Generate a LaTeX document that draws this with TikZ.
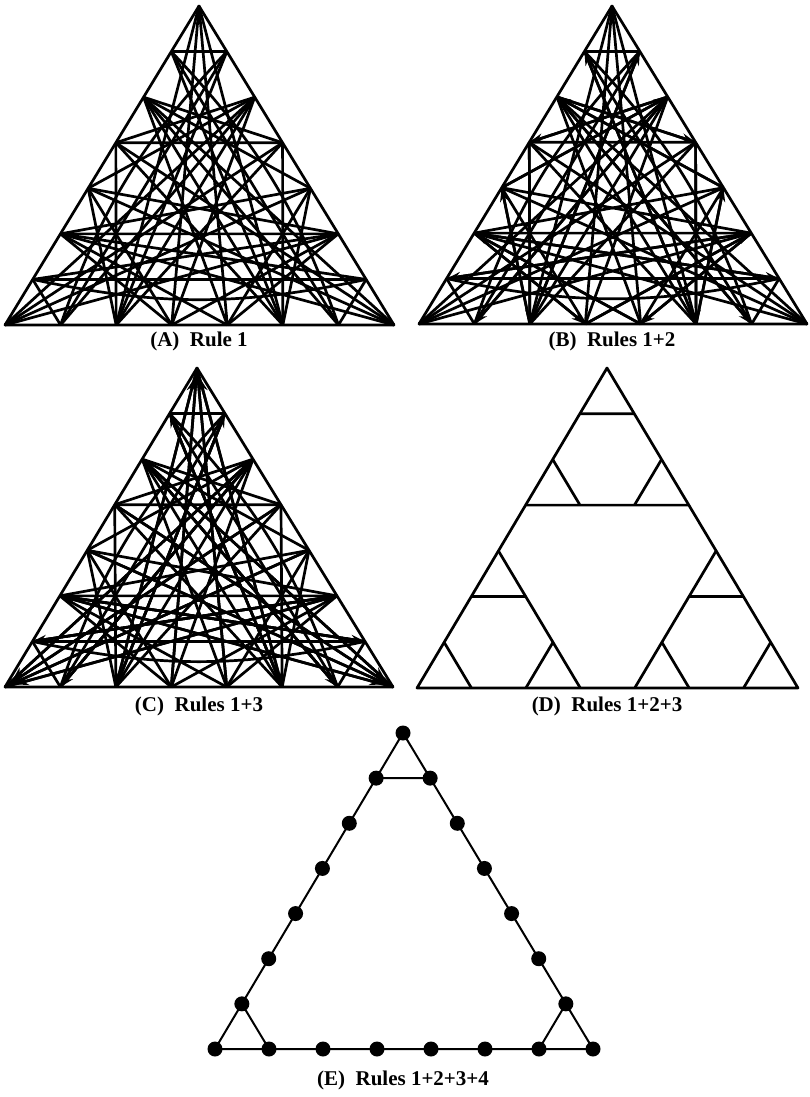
\documentclass[tikz,border=0pt]{standalone}
\usepackage{fontspec}
\setmainfont{Liberation Serif}
\usetikzlibrary{arrows.meta,calc}

\begin{document}
\begin{tikzpicture}[x=1pt,y=-1pt,
    edge/.style={line width=2.7pt,line join=round},
    ring/.style={line width=2pt,line join=round},
    tip/.style={-{Stealth[length=14pt,width=9pt]}},
    site/.style={circle,fill=black,inner sep=0pt,minimum size=15pt},
    caption/.style={font=\fontsize{21}{24}\selectfont\bfseries}
  ]
  \useasboundingbox (0,0) rectangle (809,1097);

  % corners of each panel: 0 = left, 7 = right, 14 = top
  \foreach \p/\lx/\rx/\by/\tx/\ty in {A/5/394/325/199/6,B/419/807/324/612/6,
      C/5/393/687/197/368,D/417/798/688/607/368,E/215/593/1049/403/733}{
    \coordinate (\p-0) at (\lx,\by);
    \coordinate (\p-7) at (\rx,\by);
    \coordinate (\p-14) at (\tx,\ty);
  }
  % the other 18 sites, counted round the rim
  \foreach \p in {A,B,C,D,E}
    \foreach \n in {1,...,6}{
      \pgfmathtruncatemacro\nr{\n+7}
      \pgfmathtruncatemacro\nt{\n+14}
      \coordinate (\p-\n) at ($(\p-0)!\n/7!(\p-7)$);
      \coordinate (\p-\nr) at ($(\p-7)!\n/7!(\p-14)$);
      \coordinate (\p-\nt) at ($(\p-14)!\n/7!(\p-0)$);
    }

  % rule 1 links, each one repeated at the three corners
  \foreach \p in {A,B,C}{
    \draw[edge] (\p-0) -- (\p-7) -- (\p-14) -- cycle;
    \foreach \i/\j in {14/2,14/3,14/4,14/5,15/13,17/11,19/9,20/8,
        16/11,12/17,18/12,10/16,18/9,10/19,19/8,20/9}
      \foreach \r in {0,7,14}{
        \pgfmathtruncatemacro\ia{mod(\i+\r,21)}
        \pgfmathtruncatemacro\ja{mod(\j+\r,21)}
        \draw[edge] (\p-\ia) -- (\p-\ja);
      }
    \foreach \r in {0,7,14}{
      \pgfmathtruncatemacro\ia{mod(20+\r,21)}
      \pgfmathtruncatemacro\ja{mod(8+\r,21)}
      \draw[edge] (\p-\ia) to[bend right=12] (\p-\ja);
    }
  }
  % rule 2 gives some links a way
  \foreach \i/\j in {16/11,12/17,18/12,10/16,19/8,9/20}
    \foreach \r in {0,7,14}{
      \pgfmathtruncatemacro\ia{mod(\i+\r,21)}
      \pgfmathtruncatemacro\ja{mod(\j+\r,21)}
      \draw[edge,tip] (B-\ia) -- (B-\ja);
    }
  % rule 3
  \foreach \i/\j/\gap in {2/14/10,3/14/4,4/14/4,5/14/10,8/19/0,20/9/0,5/15/0,2/13/0}
    \foreach \r in {0,7,14}{
      \pgfmathtruncatemacro\ia{mod(\i+\r,21)}
      \pgfmathtruncatemacro\ja{mod(\j+\r,21)}
      \draw[edge,tip,shorten >=\gap pt] (C-\ia) -- (C-\ja);
    }

  % rules 1+2+3: corners of size 3 cut off, and their own corners cut
  \draw[edge] (D-0) -- (D-7) -- (D-14) -- cycle;
  \foreach \r in {0,7,14}{
    \pgfmathtruncatemacro\ua{mod(15+\r,21)}
    \pgfmathtruncatemacro\ub{mod(13+\r,21)}
    \pgfmathtruncatemacro\uc{mod(17+\r,21)}
    \pgfmathtruncatemacro\ud{mod(11+\r,21)}
    \pgfmathtruncatemacro\ue{mod(16+\r,21)}
    \pgfmathtruncatemacro\uf{mod(12+\r,21)}
    \coordinate (D-m\r) at ($(D-\uc)!1/3!(D-\ud)$);
    \coordinate (D-n\r) at ($(D-\uc)!2/3!(D-\ud)$);
    \draw[edge] (D-\ua) -- (D-\ub);
    \draw[edge] (D-\uc) -- (D-\ud);
    \draw[edge] (D-\ue) -- (D-m\r);
    \draw[edge] (D-\uf) -- (D-n\r);
  }

  % rules 1+2+3+4: the ring
  \draw[ring] (E-0) -- (E-7) -- (E-14) -- cycle;
  \foreach \r in {0,7,14}{
    \pgfmathtruncatemacro\ua{mod(15+\r,21)}
    \pgfmathtruncatemacro\ub{mod(13+\r,21)}
    \draw[ring] (E-\ua) -- (E-\ub);
  }
  \foreach \n in {0,...,20}
    \node[site] (dot\n) at (E-\n) {};

  \node[caption] (capA) at (199,341) {(A)\enspace Rule 1};
  \node[caption] (capB) at (612,341) {(B)\enspace Rules 1+2};
  \node[caption] (capC) at (199,706) {(C)\enspace Rules 1+3};
  \node[caption] (capD) at (607,706) {(D)\enspace Rules 1+2+3};
  \node[caption] (capE) at (403,1080) {(E)\enspace Rules 1+2+3+4};
\end{tikzpicture}
\end{document}
